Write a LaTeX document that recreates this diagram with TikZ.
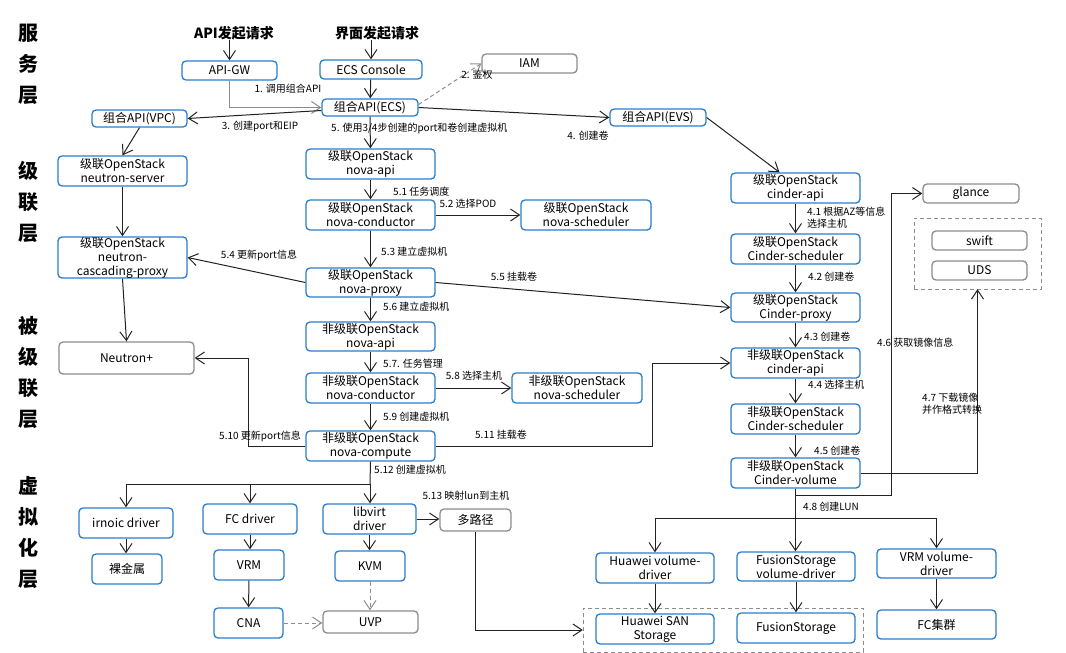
\documentclass[tikz,border=0pt]{standalone}
\usepackage{fontspec}
\setmainfont{Noto Sans CJK SC}
\usetikzlibrary{arrows.meta,calc}
\definecolor{bb}{HTML}{2A7DCB}
\definecolor{gb}{HTML}{8C8C8C}
\definecolor{ln}{HTML}{222222}
\tikzset{
  bx/.style={draw=bb, line width=1.3pt, rounded corners=4pt, fill=white, align=center, inner sep=0pt, text=black, font=\fontsize{12}{14}\selectfont},
  gbx/.style={bx, draw=gb},
  ob/.style={bx, minimum width=129pt, minimum height=30pt},
  lbl/.style={font=\fontsize{10}{11.5}\selectfont, inner sep=0pt, align=left, text=black},
  layer/.style={font=\fontsize{20}{31}\selectfont\bfseries, align=center, inner sep=0pt},
  hdr/.style={font=\fontsize{14}{16}\selectfont\bfseries, inner sep=0pt},
  arr/.style={draw=ln, line width=1pt, -{Straight Barb[length=9pt,width=12pt,line width=1pt]}},
  wire/.style={draw=ln, line width=1pt},
  gdash/.style={draw=gb, dash pattern=on 4pt off 3pt},
}
\begin{document}
\begin{tikzpicture}[x=1pt,y=-1pt]
\useasboundingbox (0,0) rectangle (1066,653);

% layer labels
\node[layer] (L1) at (28,64) {服\\务\\层};
\node[layer] (L2) at (28,201.5) {级\\联\\层};
\node[layer] (L3) at (28,372.5) {被\\级\\联\\层};
\node[layer] (L4) at (28,532.5) {虚\\拟\\化\\层};

% headers
\node[hdr] (h1) at (234,33) {API发起请求};
\node[hdr] (h2) at (377,33) {界面发起请求};

% service layer
\node[bx, minimum width=95pt, minimum height=19pt] (apigw) at (229.5,70.5) {API-GW};
\node[bx, minimum width=102pt, minimum height=19pt] (ecscon) at (371,69.5) {ECS Console};
\node[gbx, minimum width=95pt, minimum height=19pt] (iam) at (529.5,63.5) {IAM};
\node[bx, minimum width=96pt, minimum height=17pt] (ecs) at (370,107.5) {组合API(ECS)};
\node[bx, minimum width=95pt, minimum height=17pt] (vpc) at (139.5,118.5) {组合API(VPC)};
\node[bx, minimum width=96pt, minimum height=17pt] (evs) at (658,117.5) {组合API(EVS)};

% cascading layer
\node[ob] (nserver) at (122.5,171) {级联OpenStack\\neutron-server};
\node[ob] (napi) at (370.5,164) {级联OpenStack\\nova-api};
\node[ob] (ncond) at (370.5,215) {级联OpenStack\\nova-conductor};
\node[ob, minimum width=130pt] (nsched) at (586,215) {级联OpenStack\\nova-scheduler};
\node[ob, minimum height=29pt] (nproxy) at (370.5,282.5) {级联OpenStack\\nova-proxy};
\node[bx, minimum width=129pt, minimum height=39pt] (ncp) at (122.5,257.5) {级联OpenStack\\neutron-\\cascading-proxy};
\node[ob] (capi) at (795.5,188) {级联OpenStack\\cinder-api};
\node[ob] (csched) at (795.5,249) {级联OpenStack\\Cinder-scheduler};
\node[ob, minimum height=29pt] (cproxy) at (795.5,307.5) {级联OpenStack\\Cinder-proxy};
\node[gbx, minimum width=96pt, minimum height=19pt] (glance) at (971,193.5) {glance};
\node[gdash, minimum width=127pt, minimum height=71pt, inner sep=0pt] (gbox) at (977.5,253.5) {};
\node[gbx, minimum width=95pt, minimum height=19pt] (swift) at (979.5,240.5) {swift};
\node[gbx, minimum width=95pt, minimum height=19pt] (uds) at (979.5,270.5) {UDS};

% cascaded layer
\node[ob, minimum height=29pt] (xnapi) at (370.5,336.5) {非级联OpenStack\\nova-api};
\node[ob] (xncond) at (370.5,388) {非级联OpenStack\\nova-conductor};
\node[ob, minimum width=130pt] (xnsched) at (577,388) {非级联OpenStack\\nova-scheduler};
\node[ob] (xncomp) at (370.5,446) {非级联OpenStack\\nova-compute};
\node[gbx, minimum width=135pt, minimum height=32pt] (nplus) at (126.5,358) {Neutron+};
\node[ob] (xcapi) at (795.5,363) {非级联OpenStack\\cinder-api};
\node[ob] (xcsched) at (795.5,419) {非级联OpenStack\\Cinder-scheduler};
\node[ob] (xcvol) at (795.5,473) {非级联OpenStack\\Cinder-volume};

% virtualization layer
\node[bx, minimum width=94pt, minimum height=30pt] (irnoic) at (126,523) {irnoic driver};
\node[bx, minimum width=70pt, minimum height=30pt] (baremetal) at (127,569) {裸金属};
\node[bx, minimum width=94pt, minimum height=30pt] (fcdrv) at (250,519) {FC driver};
\node[bx, minimum width=70pt, minimum height=30pt] (vrm) at (249,565) {VRM};
\node[bx, minimum width=69pt, minimum height=30pt] (cna) at (248.5,623) {CNA};
\node[bx, minimum width=93pt, minimum height=30pt] (libvirt) at (369.5,519) {libvirt\\driver};
\node[bx, minimum width=70pt, minimum height=30pt] (kvm) at (370,566) {KVM};
\node[gbx, minimum width=95pt, minimum height=22pt] (uvp) at (370.5,622) {UVP};
\node[gbx, minimum width=71pt, minimum height=22pt] (mpath) at (475.5,520) {多路径};
\node[gdash, minimum width=280pt, minimum height=44pt, inner sep=0pt] (sanbox) at (723,630) {};
\node[bx, minimum width=118pt, minimum height=30pt] (hvd) at (655,568) {Huawei volume-\\driver};
\node[bx, minimum width=118pt, minimum height=29pt] (fvd) at (796,566.5) {FusionStorage\\volume-driver};
\node[bx, minimum width=119pt, minimum height=29pt] (vvd) at (936.5,563.5) {VRM volume-\\driver};
\node[bx, minimum width=118pt, minimum height=30pt] (hsan) at (655,629) {Huawei SAN\\Storage};
\node[bx, minimum width=118pt, minimum height=30pt] (fstor) at (796,628) {FusionStorage};
\node[bx, minimum width=119pt, minimum height=29pt] (fccl) at (936.5,624.5) {FC集群};

% ---- connectors ----
\draw[arr] (h1.south -| apigw.north) -- (apigw.north);
\draw[arr] (h2.south -| ecscon.north) -- (ecscon.north);
\draw[arr] (ecscon) -- (ecs);
\draw[arr, draw=gb] (apigw.south) |- (ecs.west);
\draw[arr, draw=gb, dash pattern=on 4pt off 3pt] ($(ecs.east)+(0,-3)$) -- (iam.west);
\draw[arr] ($(ecs.west)+(0,3)$) -- (vpc.east);
\draw[arr] (ecs.east) -- (evs.west);
\draw[arr] (ecs) -- (napi);
\draw[arr] (vpc.south) -- (nserver.north);
\draw[arr] (nserver) -- (ncp);
\draw[arr] (ncp.south) -- (nplus.north);
\draw[arr] (napi) -- (ncond);
\draw[arr] (ncond) -- (nsched);
\draw[arr] (ncond) -- (nproxy);
\draw[arr] (nproxy.west) -- (ncp.east);
\draw[arr] (nproxy.east) -- (cproxy.west);
\draw[arr] (nproxy) -- (xnapi);
\draw[arr] (xnapi) -- (xncond);
\draw[arr] (xncond) -- (xnsched);
\draw[arr] (xncond) -- (xncomp);
\draw[arr] (xncomp.west) -- ++(-57,0) |- (nplus.east);
\draw[arr] (xncomp.east) -- ++(217,0) |- (xcapi.west);
\coordinate (vbus) at (370,484);
\draw[wire] (xncomp.south) -- (vbus);
\draw[arr] (vbus) -- (vbus |- libvirt.north);
\draw[arr] (vbus) -| (irnoic.north);
\draw[arr] (vbus) -| (fcdrv.north);
\draw[arr] (irnoic.south) -- (irnoic.south |- baremetal.north);
\draw[arr] (fcdrv.south) -- (fcdrv.south |- vrm.north);
\draw[arr] (vrm) -- (cna);
\draw[arr] (libvirt.south) -- (libvirt.south |- kvm.north);
\draw[arr, draw=gb, dash pattern=on 4pt off 3pt] (kvm.south) -- (kvm.south |- uvp.north);
\draw[arr, draw=gb, dash pattern=on 4pt off 3pt] (cna.east) -- (cna.east -| uvp.west);
\draw[arr] (libvirt.east) -- (libvirt.east -| mpath.west);
\draw[arr] (mpath.south) |- (sanbox.west);

\draw[arr] (evs.east) -- ($(capi.north)+(-16,0)$);
\draw[arr] (capi) -- (csched);
\draw[arr] (csched) -- (cproxy);
\draw[arr] (cproxy) -- (xcapi);
\draw[arr] (xcapi) -- (xcsched);
\draw[arr] (xcsched) -- (xcvol);
\coordinate (cbus) at (795.5,518);
\draw[wire] (xcvol.south) -- (cbus);
\draw[arr] (cbus) -| (hvd.north);
\draw[arr] (cbus) -- (cbus |- fvd.north);
\draw[arr] (cbus) -| (vvd.north);
\draw[arr] (hvd) -- (hsan);
\draw[arr] (fvd) -- (fstor);
\draw[arr] (vvd) -- (fccl);
\draw[arr] (xcvol.south) -- ++(0,7) -- ++(96,0) |- (glance.west);
\draw[arr] (xcvol.east) -| (gbox.south);

% ---- labels ----
\node[lbl] (t1) at (288,89) {1. 调用组合API};
\node[lbl] (t2) at (477,75) {2. 鉴权};
\node[lbl] (t3) at (260,126) {3. 创建port和EIP};
\node[lbl] (t4) at (588,136) {4. 创建卷};
\node[lbl, anchor=west] (t5) at (331,128) {5. 使用3/4步创建的port和卷创建虚拟机};
\node[lbl, anchor=west] (t51) at (393,192) {5.1 任务调度};
\node[lbl] (t52) at (468,204) {5.2 选择POD};
\node[lbl, anchor=west] (t53) at (381,252) {5.3 建立虚拟机};
\node[lbl] (t54) at (259,255) {5.4 更新port信息};
\node[lbl] (t55) at (514,277) {5.5 挂载卷};
\node[lbl, anchor=west] (t56) at (383,307) {5.6 建立虚拟机};
\node[lbl, anchor=west] (t57) at (383,364) {5.7. 任务管理};
\node[lbl] (t58) at (474,376) {5.8 选择主机};
\node[lbl, anchor=west] (t59) at (383,417) {5.9 创建虚拟机};
\node[lbl] (t510) at (260,436) {5.10 更新port信息};
\node[lbl] (t511) at (501,435) {5.11 挂载卷};
\node[lbl, anchor=west] (t512) at (374,470) {5.12 创建虚拟机};
\node[lbl] (t513) at (466,496) {5.13 映射lun到主机};
\node[lbl, anchor=west] (t41) at (807,217.5) {4.1 根据AZ等信息\\选择主机};
\node[lbl, anchor=west] (t42) at (808,277) {4.2 创建卷};
\node[lbl, anchor=west] (t43) at (804,337) {4.3 创建卷};
\node[lbl, anchor=west] (t44) at (808,385) {4.4 选择主机};
\node[lbl, anchor=west] (t45) at (814,451) {4.5 创建卷};
\node[lbl, anchor=west] (t46) at (877,343) {4.6 获取镜像信息};
\node[lbl, anchor=west] (t47) at (922,403.5) {4.7 下载镜像\\并作格式转换};
\node[lbl, anchor=west] (t48) at (803,507) {4.8 创建LUN};
\end{tikzpicture}
\end{document}
